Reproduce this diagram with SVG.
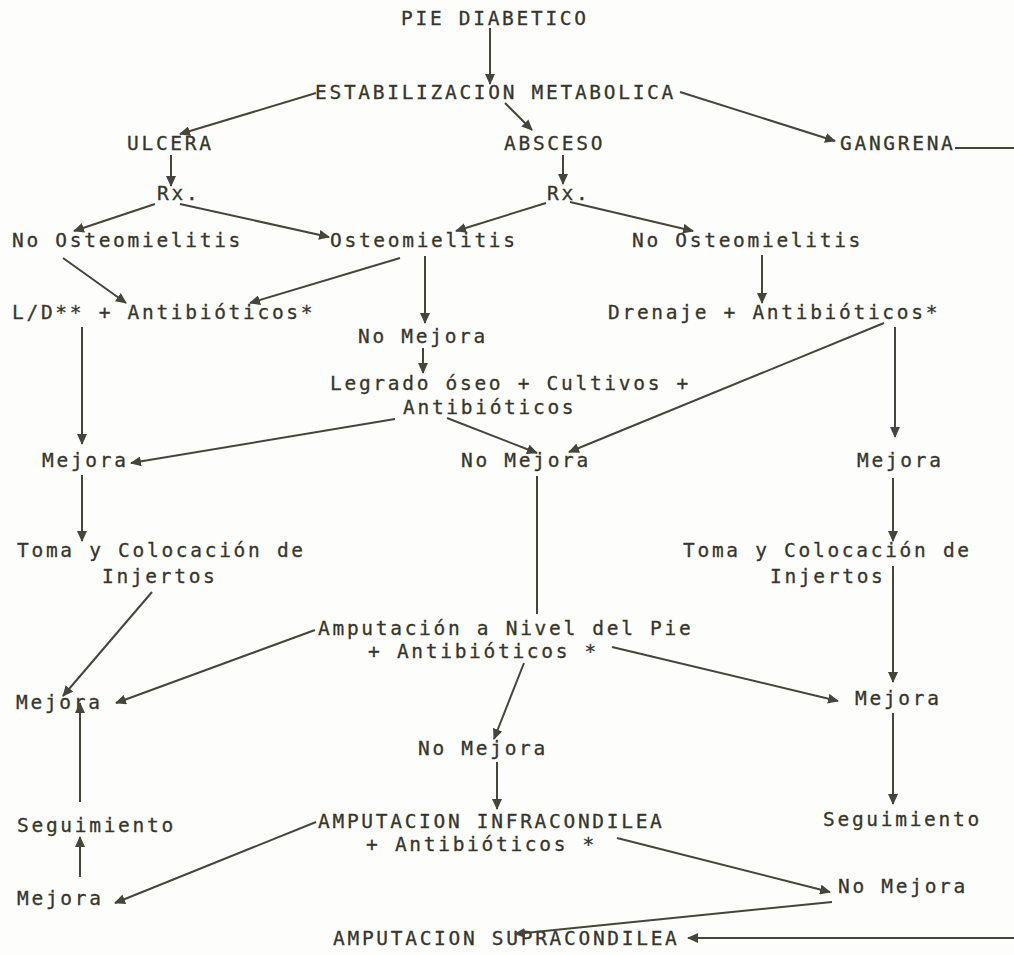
<svg xmlns="http://www.w3.org/2000/svg" width="1014" height="955" viewBox="0 0 1014 955">
<style>
text{font-family:"DejaVu Sans Mono","Liberation Mono",monospace;font-size:19.5px;letter-spacing:2.7px;fill:#36362b;stroke:#36362b;stroke-width:0.3px}
.c line,.c path{stroke:#45453c;stroke-width:2;fill:none}
.a{marker-end:url(#ah)}
</style>
<defs>
<marker id="ah" markerUnits="userSpaceOnUse" markerWidth="11" markerHeight="10" refX="10" refY="5" orient="auto">
<path d="M0,0 L11,5 L0,10 z" fill="#45453c"/>
</marker>
</defs>
<rect width="1014" height="955" fill="#fdfdfb"/>
<g id="n-pie"><text x="401" y="25">PIE DIABETICO</text></g>
<g id="n-estab"><text x="315" y="99">ESTABILIZACION METABOLICA</text></g>
<g id="n-ulcera"><text x="127" y="150">ULCERA</text></g>
<g id="n-absceso"><text x="504" y="150">ABSCESO</text></g>
<g id="n-gangrena"><text x="840" y="150">GANGRENA</text></g>
<g id="n-rx1"><text x="157" y="200">Rx.</text></g>
<g id="n-rx2"><text x="547" y="200">Rx.</text></g>
<g id="n-noost1"><text x="12" y="247">No Osteomielitis</text></g>
<g id="n-ost"><text x="330" y="247">Osteomielitis</text></g>
<g id="n-noost2"><text x="632" y="247">No Osteomielitis</text></g>
<g id="n-ld"><text x="12" y="319">L/D** + Antibióticos*</text></g>
<g id="n-drenaje"><text x="608" y="319">Drenaje + Antibióticos*</text></g>
<g id="n-nomejora1"><text x="358" y="343">No Mejora</text></g>
<g id="n-legrado"><text x="330" y="390">Legrado óseo + Cultivos +</text><text x="403" y="414">Antibióticos</text></g>
<g id="n-mejora1"><text x="42" y="467">Mejora</text></g>
<g id="n-nomejora2"><text x="461" y="467">No Mejora</text></g>
<g id="n-mejora2"><text x="857" y="467">Mejora</text></g>
<g id="n-toma1"><text x="17" y="557">Toma y Colocación de</text><text x="102" y="583">Injertos</text></g>
<g id="n-toma2"><text x="683" y="557">Toma y Colocación de</text><text x="770" y="583">Injertos</text></g>
<g id="n-ampie"><text x="318" y="635">Amputación a Nivel del Pie</text><text x="368" y="658">+ Antibióticos *</text></g>
<g id="n-mejora3"><text x="16" y="709">Mejora</text></g>
<g id="n-mejora4"><text x="855" y="705">Mejora</text></g>
<g id="n-nomejora3"><text x="418" y="755">No Mejora</text></g>
<g id="n-seg1"><text x="17" y="832">Seguimiento</text></g>
<g id="n-infra"><text x="318" y="828">AMPUTACION INFRACONDILEA</text><text x="366" y="851">+ Antibióticos *</text></g>
<g id="n-seg2"><text x="823" y="826">Seguimiento</text></g>
<g id="n-mejora5"><text x="17" y="905">Mejora</text></g>
<g id="n-nomejora4"><text x="838" y="893">No Mejora</text></g>
<g id="n-supra"><text x="333" y="945">AMPUTACION SUPRACONDILEA</text></g>
<g id="connectors" class="c">
<line class="a" x1="490" y1="28" x2="490" y2="84"/>
<line class="a" x1="316" y1="93" x2="180" y2="134"/>
<line class="a" x1="505" y1="103" x2="532" y2="130"/>
<line class="a" x1="680" y1="92" x2="835" y2="141"/>
<line x1="955" y1="148" x2="1014" y2="148"/>
<line class="a" x1="171" y1="155" x2="171" y2="186"/>
<line class="a" x1="155" y1="204" x2="74" y2="231"/>
<line class="a" x1="180" y1="204" x2="329" y2="237"/>
<line class="a" x1="563" y1="155" x2="563" y2="184"/>
<line class="a" x1="546" y1="203" x2="456" y2="231"/>
<line class="a" x1="570" y1="202" x2="693" y2="231"/>
<line class="a" x1="63" y1="258" x2="126" y2="303"/>
<line class="a" x1="400" y1="258" x2="250" y2="303"/>
<line class="a" x1="425" y1="256" x2="425" y2="323"/>
<line class="a" x1="762" y1="255" x2="762" y2="303"/>
<line class="a" x1="423" y1="348" x2="423" y2="373"/>
<line class="a" x1="82" y1="327" x2="82" y2="444"/>
<line class="a" x1="395" y1="419" x2="131" y2="463"/>
<line class="a" x1="447" y1="418" x2="537" y2="453"/>
<line class="a" x1="884" y1="323" x2="569" y2="452"/>
<line class="a" x1="895" y1="327" x2="895" y2="437"/>
<line class="a" x1="82" y1="475" x2="82" y2="541"/>
<line x1="537" y1="476" x2="537" y2="614"/>
<line class="a" x1="893" y1="478" x2="893" y2="541"/>
<line class="a" x1="893" y1="566" x2="893" y2="682"/>
<line class="a" x1="152" y1="592" x2="63" y2="696"/>
<line class="a" x1="315" y1="630" x2="116" y2="703"/>
<line class="a" x1="612" y1="647" x2="838" y2="701"/>
<line class="a" x1="524" y1="663" x2="494" y2="739"/>
<line class="a" x1="497" y1="762" x2="497" y2="809"/>
<line class="a" x1="893" y1="713" x2="893" y2="804"/>
<line class="a" x1="80" y1="802" x2="80" y2="703"/>
<line class="a" x1="80" y1="877" x2="80" y2="837"/>
<line class="a" x1="316" y1="822" x2="115" y2="903"/>
<line class="a" x1="617" y1="838" x2="830" y2="892"/>
<line class="a" x1="832" y1="902" x2="515" y2="934"/>
<line class="a" x1="1014" y1="938" x2="688" y2="938"/>
</g>
</svg>
